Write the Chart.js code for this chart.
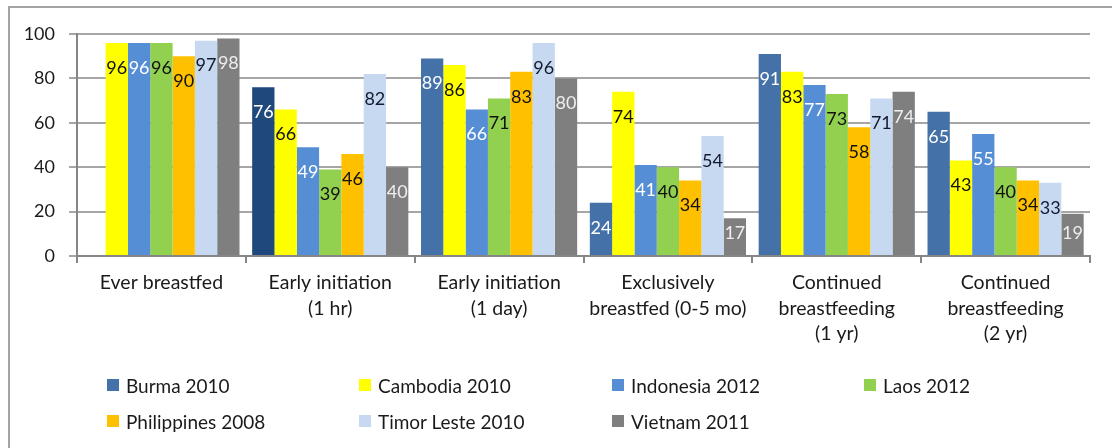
<!DOCTYPE html>
<html>
<head>
<meta charset="utf-8">
<script src="https://cdn.jsdelivr.net/npm/chart.js@4"></script>
<style>
  html, body { margin: 0; padding: 0; background: #fff; }
  #wrap { position: relative; width: 1112px; height: 448px; overflow: hidden; }
  #frame { position: absolute; left: 8px; top: 6px; width: 1200px; height: 500px;
           border-left: 2px solid #a3a3a3; border-top: 2px solid #a3a3a3; }
  #chart { position: absolute; left: 0; top: 0; }
  #legend { position: absolute; left: 107px; top: 367px; display: grid;
            grid-template-columns: 252px 253px 252px 200px; grid-auto-rows: 36px;
            font-family: Lato, "Open Sans", sans-serif; font-size: 19px; color: #1a1a1a; }
  #legend .item { display: flex; align-items: center; }
  #legend .box { width: 12px; height: 12px; margin-right: 7px; flex: none; }
</style>
</head>
<body>
<div id="wrap">
  <div id="frame"></div>
  <canvas id="chart" width="1112" height="448"></canvas>
  <div id="legend"></div>
</div>
<script>
// categories
var categories = [
  ["Ever breastfed"],
  ["Early initiation", "(1 hr)"],
  ["Early initiation", "(1 day)"],
  ["Exclusively", "breastfed (0-5 mo)"],
  ["Continued", "breastfeeding", "(1 yr)"],
  ["Continued", "breastfeeding", "(2 yr)"]
];
var seriesNames = ["Burma 2010", "Cambodia 2010", "Indonesia 2012", "Laos 2012",
                   "Philippines 2008", "Timor Leste 2010", "Vietnam 2011"];

// values (%)
var burma       = [null, 76, 89, 24, 91, 65];
var cambodia    = [96, 66, 86, 74, 83, 43];
var indonesia   = [96, 49, 66, 41, 77, 55];
var laos        = [96, 39, 71, 40, 73, 40];
var philippines = [90, 46, 83, 34, 58, 34];
var timorLeste  = [97, 82, 96, 54, 71, 33];
var vietnam     = [98, 40, 80, 17, 74, 19];

var yTicks = [0, 20, 40, 60, 80, 100];

var seriesValues = [burma, cambodia, indonesia, laos, philippines, timorLeste, vietnam];
var colors = ["#4472a8", "#ffff00", "#558ed5", "#92d050", "#ffc000", "#c6d9f1", "#7f7f7f"];
var labelColors = ["#ffffff", "#111111", "#ffffff", "#111111", "#111111", "#141a2e", "#eeeeee"];

var datasets = seriesNames.map(function (name, i) {
  var bg = colors[i];
  if (i === 0) {
    // the 1 hr Burma bar is drawn darker in the original
    bg = seriesValues[i].map(function (v, j) { return j === 1 ? "#1f497d" : colors[i]; });
  }
  return {
    label: name,
    data: seriesValues[i],
    backgroundColor: bg,
    borderWidth: 0,
    categoryPercentage: 0.925,
    barPercentage: 1.0
  };
});

// value labels drawn just inside the bar tops
var valueLabels = {
  id: "valueLabels",
  afterDatasetsDraw: function (chart) {
    var ctx = chart.ctx;
    ctx.save();
    ctx.font = "18px Lato, 'Open Sans', sans-serif";
    ctx.textAlign = "center";
    ctx.textBaseline = "middle";
    chart.data.datasets.forEach(function (ds, i) {
      var meta = chart.getDatasetMeta(i);
      meta.data.forEach(function (bar, j) {
        var v = ds.data[j];
        if (v == null) return;
        var y = Math.min(bar.y + 25, bar.base - 22);
        ctx.fillStyle = labelColors[i];
        ctx.fillText(String(v), bar.x, y);
      });
    });
    ctx.restore();
  }
};

new Chart(document.getElementById("chart"), {
  type: "bar",
  data: { labels: categories, datasets: datasets },
  options: {
    responsive: false,
    animation: false,
    layout: { padding: { left: 0, top: 34, right: 22, bottom: 0 } },
    plugins: { legend: { display: false }, tooltip: { enabled: false } },
    scales: {
      x: {
        afterFit: function (s) { s.height = 192; },
        grid: { offset: true, drawOnChartArea: false, tickLength: 7, color: "#868686", lineWidth: 2 },
        border: { display: true, color: "#868686", width: 2 },
        ticks: {
          color: "#1a1a1a",
          padding: 7,
          maxRotation: 0,
          autoSkip: false,
          font: { family: "Lato, 'Open Sans', sans-serif", size: 19.5, lineHeight: 1.31 }
        }
      },
      y: {
        min: 0,
        max: 100,
        afterFit: function (s) { s.width = 77; },
        afterBuildTicks: function (s) { s.ticks = yTicks.map(function (v) { return { value: v }; }); },
        grid: { color: "#a6a6a6", lineWidth: 2, tickLength: 8 },
        border: { display: true, color: "#868686", width: 2 },
        ticks: {
          color: "#1a1a1a",
          padding: 14,
          font: { family: "Lato, 'Open Sans', sans-serif", size: 18 }
        }
      }
    }
  },
  plugins: [valueLabels]
});

// legend grid
var legend = document.getElementById("legend");
seriesNames.forEach(function (name, i) {
  var item = document.createElement("div");
  item.className = "item";
  item.innerHTML = '<span class="box" style="background:' + colors[i] + '"></span>' + name;
  legend.appendChild(item);
});
</script>
</body>
</html>
